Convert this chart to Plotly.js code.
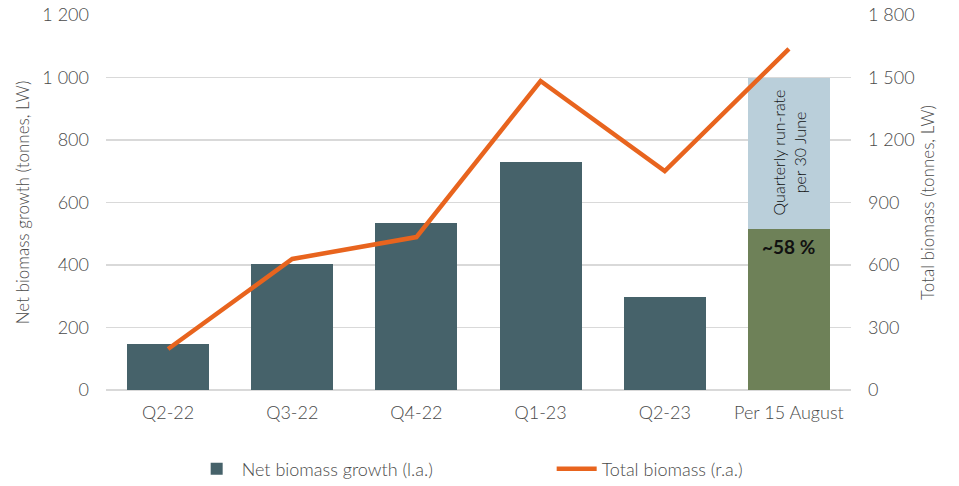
<!DOCTYPE html>
<html>
<head>
<meta charset="utf-8">
<script src="https://cdn.plot.ly/plotly-3.0.1.min.js"></script>
<style>html,body{margin:0;padding:0;background:#fff;}#chart{width:959px;height:486px;}</style>
</head>
<body>
<div id="chart"></div>
<script>
const categories = ["Q2-22", "Q3-22", "Q4-22", "Q1-23", "Q2-23", "Per 15 August"];
const netGrowth = [147, 403, 534, 730, 298, 515];
const runRateRemainder = [null, null, null, null, null, 485];
const totalBiomass = [197, 629, 734, 1483, 1051, 1637];
const leftTicks = [0, 200, 400, 600, 800, 1000, 1200];
const leftTickText = ["0", "200", "400", "600", "800", "1 000", "1 200"];
const rightTicks = [0, 300, 600, 900, 1200, 1500, 1800];
const rightTickText = ["0", "300", "600", "900", "1 200", "1 500", "1 800"];

const font = "Lato, 'Open Sans', sans-serif";
const grey = "#4a4a4a";
const lw = 300;

const traces = [
  {
    type: "bar", x: categories, y: netGrowth, name: "Net biomass growth (l.a.)",
    marker: {color: ["#46626A", "#46626A", "#46626A", "#46626A", "#46626A", "#6E8158"]},
    hoverinfo: "skip"
  },
  {
    type: "bar", x: categories, y: runRateRemainder, name: "run-rate",
    marker: {color: "#BACFDA"}, showlegend: false, hoverinfo: "skip"
  },
  {
    type: "scatter", mode: "lines", x: categories, y: totalBiomass, yaxis: "y2",
    name: "Total biomass (r.a.)", line: {color: "#E8641E", width: 4.5}, hoverinfo: "skip"
  }
];

const layout = {
  width: 959, height: 486,
  margin: {l: 106, r: 108, t: 15, b: 96},
  paper_bgcolor: "#fff", plot_bgcolor: "#fff",
  barmode: "stack", bargap: 0.34,
  font: {family: font, color: grey, size: 17, weight: lw},
  showlegend: true,
  legend: {orientation: "h", x: 0.115, xanchor: "left", xref: "paper",
           yref: "container", y: 0.035, yanchor: "middle",
           font: {size: 18, color: grey, weight: lw}, traceorder: "normal",
           itemwidth: 40, entrywidth: 305, entrywidthmode: "pixels"},
  xaxis: {type: "category", showgrid: false, zeroline: false, showline: false, ticks: "",
          tickfont: {size: 18, color: grey, weight: lw}, ticklabelstandoff: 10, automargin: false},
  yaxis: {range: [0, 1200], tickvals: leftTicks, ticktext: leftTickText, automargin: false,
          showgrid: true, gridcolor: "#D9D9D9", gridwidth: 1.5, zeroline: true,
          zerolinecolor: "#D9D9D9", zerolinewidth: 1.5, showline: false,
          tickfont: {size: 18, color: grey, weight: lw}, ticklabelstandoff: 16,
          title: {text: "Net biomass growth (tonnes, LW)", font: {size: 17, color: grey, weight: lw}, standoff: 8}},
  yaxis2: {range: [0, 1800], tickvals: rightTicks, ticktext: rightTickText, overlaying: "y", side: "right",
           showgrid: false, zeroline: false, showline: false, automargin: false,
           tickfont: {size: 18, color: grey, weight: lw}, ticklabelstandoff: 16,
           title: {text: "Total biomass (tonnes, LW)", font: {size: 17, color: grey, weight: lw}, standoff: 8}},
  annotations: [
    {x: categories[5], y: 515, yref: "y", xref: "x", text: "<b>~58 %</b>", showarrow: false,
     yanchor: "top", yshift: -4, font: {size: 19, color: "#111", family: font}},
    {x: categories[5], y: 760, yref: "y", xref: "x", text: "Quarterly run-rate<br>per 30 June",
     showarrow: false, textangle: -90, font: {size: 16, color: "#111", family: font, weight: lw}}
  ]
};

Plotly.newPlot("chart", traces, layout, {displayModeBar: false, staticPlot: true});
</script>
</body>
</html>
